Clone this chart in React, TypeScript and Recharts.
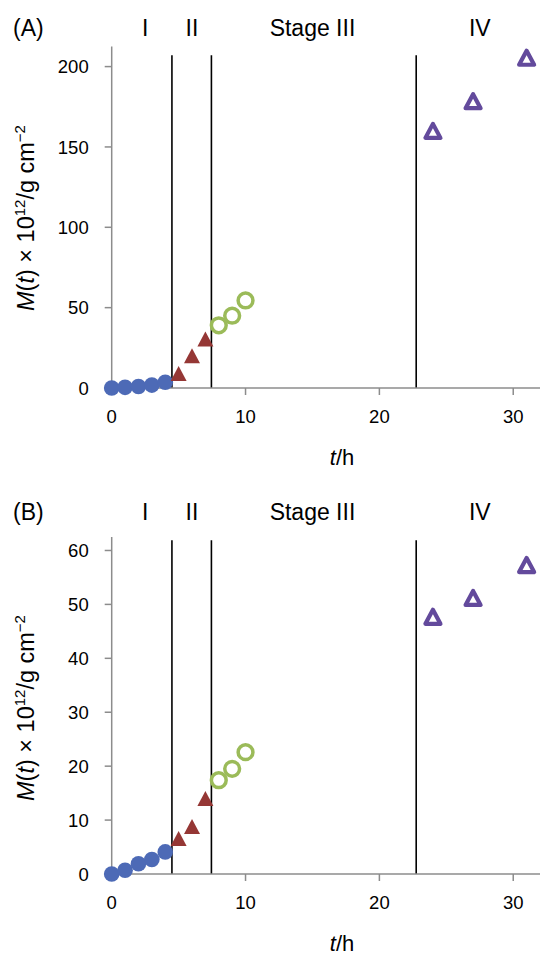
import React from 'react';
import { ScatterChart, Scatter, XAxis, YAxis, ReferenceLine, ReferenceDot } from 'recharts';

// ---- data ----
const tStage1 = [0, 1, 2, 3, 4];
const tStage2 = [5, 6, 7];
const tStage3 = [8, 9, 10];
const tStage4 = [24, 27, 31];

const aStage1 = [0, 0.4, 0.9, 1.8, 3.6];
const aStage2 = [9, 20, 30.5];
const aStage3 = [39, 45, 54.5];
const aStage4 = [160, 178.5, 205.5];

const bStage1 = [0, 0.7, 1.9, 2.7, 4.1];
const bStage2 = [6.6, 8.8, 14];
const bStage3 = [17.4, 19.5, 22.6];
const bStage4 = [47.7, 51.2, 57.3];

const stageBoundaries = [4.5, 7.45, 22.75];
const stageNames = ['I', 'II', 'Stage III', 'IV'];
const stageCenters = [2.5, 6, 15, 27.5];
const xTicks = [0, 10, 20, 30];
const aYTicks = [0, 50, 100, 150, 200];
const bYTicks = [0, 10, 20, 30, 40, 50, 60];

// ---- style ----
const FONT = '"Liberation Sans", Arial, Helvetica, sans-serif';
const AXIS = '#8c8c8c';
const BLUE = '#4d6ab6';
const RED = '#953735';
const GREEN = '#9bbb59';
const PURPLE = '#634a9c';

const zip = (xs: number[], ys: number[]) => xs.map((x, i) => ({ x, y: ys[i] }));

const FilledCircle = (p: any) => <circle cx={p.cx} cy={p.cy} r={7.8} fill={BLUE} />;
const OpenCircle = (p: any) => (
  <circle cx={p.cx} cy={p.cy} r={7.4} fill="none" stroke={GREEN} strokeWidth={3.5} />
);
const FilledTriangle = (p: any) => {
  const w = 16, h = 15;
  return (
    <path
      d={`M${p.cx},${p.cy - h / 2} L${p.cx + w / 2},${p.cy + h / 2} L${p.cx - w / 2},${p.cy + h / 2} Z`}
      fill={RED}
    />
  );
};
const OpenTriangle = (p: any) => {
  const w = 15, h = 14;
  return (
    <path
      d={`M${p.cx},${p.cy - h / 2} L${p.cx + w / 2},${p.cy + h / 2} L${p.cx - w / 2},${p.cy + h / 2} Z`}
      fill="none"
      stroke={PURPLE}
      strokeWidth={4.2}
      strokeLinejoin="round"
    />
  );
};

const StageLabel = (props: any) => {
  const vb = props.viewBox || {};
  const x = (vb.x || 0) + (vb.width || 0) / 2;
  return (
    <text x={x} y={props.baseline} textAnchor="middle" fontSize={23} fontFamily={FONT} fill="#000">
      {props.text}
    </text>
  );
};

const YTitle = (props: any) => {
  const x = 34;
  const y = props.cy;
  return (
    <g>
      <text x={13} y={props.panelBaseline} fontSize={23} fontFamily={FONT} fill="#000">
        {props.panel}
      </text>
      <text
        x={x}
        y={y}
        transform={`rotate(-90 ${x} ${y})`}
        textAnchor="middle"
        fontSize={23.5}
        fontFamily={FONT}
        fill="#000"
      >
        <tspan fontStyle="italic">M</tspan>
        <tspan>(</tspan>
        <tspan fontStyle="italic">t</tspan>
        <tspan>{') \u00d7 10'}</tspan>
        <tspan dy={-9} fontSize={15}>12</tspan>
        <tspan dy={9}>{'/g cm'}</tspan>
        <tspan dy={-9} fontSize={15}>{'\u22122'}</tspan>
      </text>
    </g>
  );
};

const XTitle = (props: any) => (
  <text x={342} y={props.baseline} textAnchor="middle" fontSize={22} fontFamily={FONT} fill="#000">
    <tspan fontStyle="italic">t</tspan>
    <tspan>/h</tspan>
  </text>
);

type PanelProps = {
  panel: string;
  s1: number[];
  s2: number[];
  s3: number[];
  s4: number[];
  yMax: number;
  lineTop: number;
  yTicks: number[];
  top: number;
  xAxisHeight: number;
  titleCy: number;
  labelBaseline: number;
  xTitleBaseline: number;
};

const Panel = (p: PanelProps) => (
  <ScatterChart
    width={540}
    height={478}
    margin={{ top: p.top, right: 0, bottom: 0, left: 0 }}
    style={{ display: 'block', overflow: 'visible' }}
  >
    <XAxis
      type="number"
      dataKey="x"
      domain={[0, 32]}
      ticks={xTicks}
      height={p.xAxisHeight}
      tickSize={7}
      tickMargin={15}
      axisLine={{ stroke: AXIS, strokeWidth: 1.5 }}
      tickLine={{ stroke: AXIS, strokeWidth: 1.5 }}
      tick={{ fill: '#000', fontSize: 18.5, fontFamily: FONT }}
      label={<XTitle baseline={p.xTitleBaseline} />}
    />
    <YAxis
      type="number"
      dataKey="y"
      domain={[0, p.yMax]}
      ticks={p.yTicks}
      width={111.7}
      tickSize={7}
      tickMargin={16}
      axisLine={{ stroke: AXIS, strokeWidth: 1.5 }}
      tickLine={{ stroke: AXIS, strokeWidth: 1.5 }}
      tick={{ fill: '#000', fontSize: 18.5, fontFamily: FONT }}
      label={<YTitle cy={p.titleCy} panel={p.panel} panelBaseline={p.labelBaseline} />}
    />
    {stageBoundaries.map((b) => (
      <ReferenceLine
        key={b}
        segment={[{ x: b, y: 0 }, { x: b, y: p.lineTop }]}
        stroke="#000"
        strokeWidth={1.6}
      />
    ))}
    {stageNames.map((n, i) => (
      <ReferenceDot
        key={n}
        x={stageCenters[i]}
        y={p.yMax}
        r={0}
        fill="none"
        stroke="none"
        ifOverflow="visible"
        label={<StageLabel text={n} baseline={p.labelBaseline} />}
      />
    ))}
    <Scatter data={zip(tStage1, p.s1)} shape={FilledCircle} isAnimationActive={false} />
    <Scatter data={zip(tStage2, p.s2)} shape={FilledTriangle} isAnimationActive={false} />
    <Scatter data={zip(tStage3, p.s3)} shape={OpenCircle} isAnimationActive={false} />
    <Scatter data={zip(tStage4, p.s4)} shape={OpenTriangle} isAnimationActive={false} />
  </ScatterChart>
);

export default function App() {
  return (
    <div style={{ position: 'absolute', left: 0, top: 0, width: 540, height: 956, background: '#fff' }}>
      <Panel
        panel="(A)"
        s1={aStage1}
        s2={aStage2}
        s3={aStage3}
        s4={aStage4}
        yMax={212.5}
        lineTop={207}
        yTicks={aYTicks}
        top={46.5}
        xAxisHeight={90}
        titleCy={218}
        labelBaseline={36}
        xTitleBaseline={465}
      />
      <Panel
        panel="(B)"
        s1={bStage1}
        s2={bStage2}
        s3={bStage3}
        s4={bStage4}
        yMax={62.5}
        lineTop={61.9}
        yTicks={bYTicks}
        top={59}
        xAxisHeight={82}
        titleCy={230}
        labelBaseline={42}
        xTitleBaseline={473}
      />
    </div>
  );
}
